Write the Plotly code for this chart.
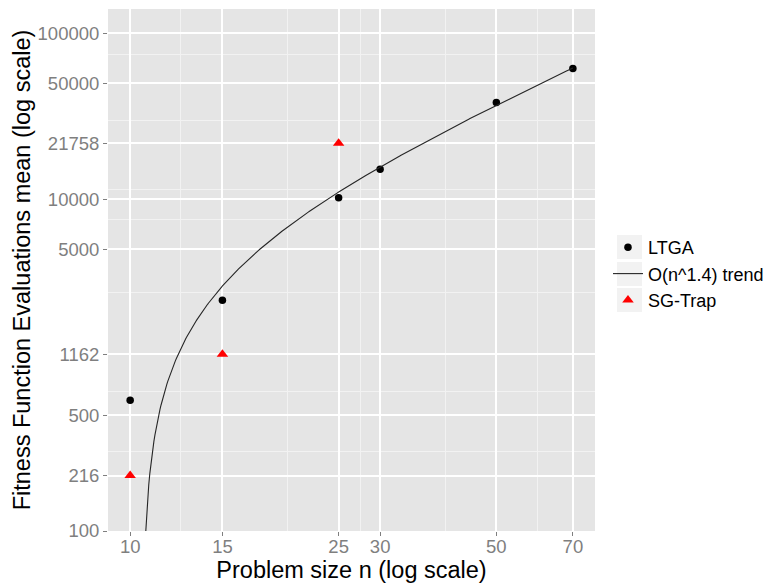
import numpy as np
import plotly.graph_objects as go

# ---- data ----
ltga_n = [10, 15, 25, 30, 50, 70]
ltga_evals = [615, 2457, 10220, 15150, 38300, 61300]
sg_n = [10, 15, 25]
sg_evals = [216, 1162, 21758]

x_ticks = [10, 15, 25, 30, 50, 70]
y_ticks = [100, 216, 500, 1162, 5000, 10000, 21758, 50000, 100000]
x_minor = [12.5, 20, 27.5, 40, 60]
y_minor = [300, 689, 2750, 7500, 11460, 30000, 75000]

# O(n^1.4) trend: linear fit of LTGA evaluations on n^1.4
a, b = np.polyfit(np.array(ltga_n, float) ** 1.4, np.array(ltga_evals, float), 1)
trend_n = np.linspace(min(ltga_n), max(ltga_n), 1200)
trend_y = a * trend_n ** 1.4 + b
trend_y = np.where(trend_y > 0, trend_y, np.nan)

FONT = "Liberation Sans, Arial, sans-serif"
GREY = "#7F7F7F"

fig = go.Figure()
fig.add_trace(go.Scatter(
    x=ltga_n, y=ltga_evals, mode="markers", name="LTGA",
    marker=dict(symbol="circle", size=7.5, color="black"),
))
fig.add_trace(go.Scatter(
    x=trend_n, y=trend_y, mode="lines", name="O(n^1.4) trend",
    line=dict(color="#262626", width=1.1), connectgaps=False,
))
fig.add_trace(go.Scatter(
    x=sg_n, y=sg_evals, mode="markers", name="SG-Trap",
    marker=dict(symbol="triangle-up", size=10, color="red"),
))

# legend key backgrounds (ggplot style)
L, R, T, B = 107.5, 595.0, 9.0, 531.0
def px2paper_x(px):
    return (px - L) / (R - L)
def px2paper_y(py):
    return (B - py) / (B - T)
key_rows = [247, 274, 300]
shapes = []
for cy in key_rows:
    shapes.append(dict(
        type="rect", xref="paper", yref="paper",
        x0=px2paper_x(617), x1=px2paper_x(642),
        y0=px2paper_y(cy + 12), y1=px2paper_y(cy - 12),
        fillcolor="#F2F2F2", line=dict(width=0), layer="below",
    ))

fig.update_layout(
    width=769, height=586,
    margin=dict(l=L, r=769 - R, t=T, b=586 - B, autoexpand=False),
    paper_bgcolor="white", plot_bgcolor="#E5E5E5",
    font=dict(family=FONT, color="black"),
    shapes=shapes,
    showlegend=True,
    legend=dict(
        x=px2paper_x(608), y=px2paper_y(274), xanchor="left", yanchor="middle",
        font=dict(family=FONT, size=18, color="black"),
        bgcolor="rgba(0,0,0,0)", borderwidth=0,
        tracegroupgap=0, itemwidth=30,
    ),
    xaxis=dict(
        type="log", range=[0.9577, 1.8873],
        tickmode="array", tickvals=x_ticks, ticktext=[str(v) for v in x_ticks],
        tickfont=dict(family=FONT, size=18.5, color=GREY),
        ticks="outside", ticklen=4, tickcolor=GREY, tickwidth=1,
        ticklabelstandoff=-5,
        showgrid=True, gridcolor="white", gridwidth=1.5,
        minor=dict(tickvals=x_minor, showgrid=True, gridcolor="#F2F2F2", gridwidth=1, ticks=""),
        zeroline=False, showline=False,
        title=dict(text="Problem size n (log scale)", font=dict(family=FONT, size=23.5, color="black"), standoff=0),
    ),
    yaxis=dict(
        type="log", range=[2, 5.1465],
        tickmode="array", tickvals=y_ticks, ticktext=[str(v) for v in y_ticks],
        tickfont=dict(family=FONT, size=18.5, color=GREY),
        ticks="outside", ticklen=4, tickcolor=GREY, tickwidth=1,
        showgrid=True, gridcolor="white", gridwidth=1.5,
        minor=dict(tickvals=y_minor, showgrid=True, gridcolor="#F2F2F2", gridwidth=1, ticks=""),
        zeroline=False, showline=False,
        title=dict(text="Fitness Function Evaluations mean (log scale)", font=dict(family=FONT, size=23.5, color="black"), standoff=0),
    ),
)

fig.write_html("out.html")
